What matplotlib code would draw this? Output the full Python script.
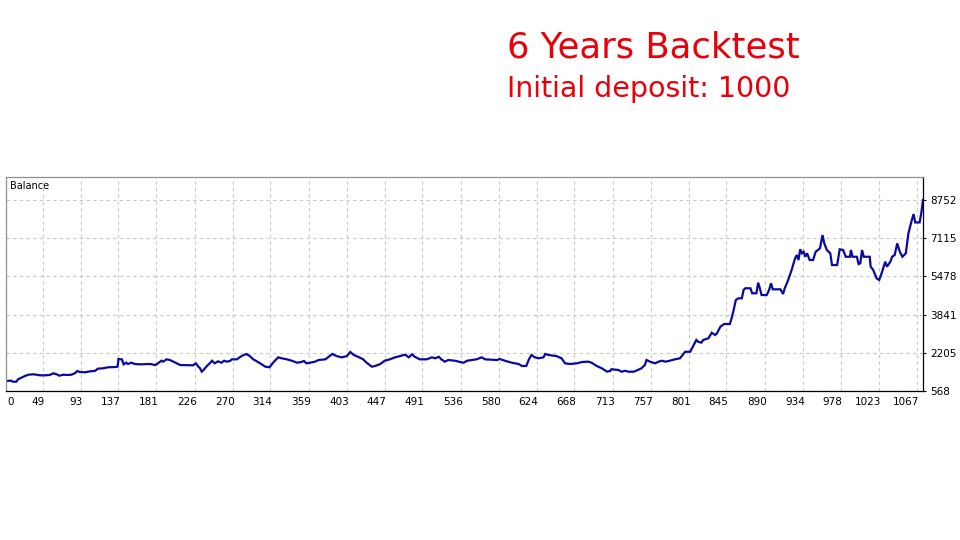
import numpy as np
import matplotlib.pyplot as plt
import matplotlib.transforms as mtransforms

# Curva de saldo (número da operação, saldo)
trade = [6, 12, 14, 18, 20, 24, 28, 32, 38, 46, 51, 57, 61, 65, 68, 73, 77, 82, 86, 89,
         92, 98, 104, 110, 113, 119, 125, 133, 136, 137, 141, 143, 146, 148, 152, 156, 162, 174, 180, 183,
         187, 189, 193, 197, 201, 205, 209, 224, 227, 230, 232, 234, 236, 240, 244, 246, 249, 253, 257, 260,
         263, 267, 269, 275, 279, 282, 286, 290, 294, 298, 302, 308, 313, 317, 323, 327, 333, 339, 345, 350,
         353, 356, 360, 366, 370, 378, 381, 386, 391, 397, 403, 407, 411, 416, 422, 426, 432, 436, 442, 447,
         453, 459, 465, 471, 475, 479, 482, 488, 496, 502, 506, 510, 513, 517, 521, 529, 535, 539, 543, 554,
         560, 564, 578, 581, 587, 595, 603, 607, 612, 615, 618, 622, 626, 632, 634, 638, 647, 653, 657, 663,
         671, 677, 684, 688, 694, 700, 706, 710, 711, 719, 723, 727, 731, 737, 742, 746, 750, 752, 756, 762,
         766, 770, 774, 779, 785, 791, 794, 797, 803, 805, 809, 810, 812, 816, 818, 824, 828, 832, 834, 838,
         842, 849, 851, 853, 856, 859, 863, 865, 867, 873, 875, 880, 882, 884, 886, 892, 895, 897, 899, 908,
         911, 913, 917, 921, 925, 927, 929, 931, 933, 935, 937, 939, 942, 946, 949, 954, 957, 959, 962, 966,
         968, 974, 977, 981, 984, 989, 990, 992, 997, 999, 1001, 1003, 1005, 1012, 1013, 1016, 1020, 1023, 1026, 1030,
         1032, 1036, 1038, 1041, 1044, 1047, 1050, 1054, 1057, 1061, 1063, 1065, 1070, 1072, 1074]
balance = [1000, 1010, 965, 965, 1070, 1140, 1210, 1265, 1285, 1240, 1240, 1255, 1325, 1285, 1225, 1265, 1255, 1265, 1325, 1425,
           1380, 1370, 1410, 1435, 1525, 1540, 1585, 1595, 1610, 1940, 1925, 1710, 1780, 1725, 1780, 1725, 1710, 1725, 1680, 1755,
           1865, 1825, 1925, 1895, 1825, 1755, 1680, 1670, 1755, 1610, 1540, 1395, 1465, 1640, 1780, 1865, 1755, 1840, 1780, 1865,
           1825, 1855, 1925, 1925, 2035, 2095, 2155, 2065, 1925, 1840, 1755, 1610, 1585, 1780, 2010, 1970, 1925, 1865, 1780, 1810,
           1855, 1755, 1780, 1825, 1895, 1925, 2010, 2155, 2065, 2010, 2065, 2240, 2110, 2035, 1925, 1780, 1610, 1640, 1725, 1865,
           1925, 2010, 2065, 2125, 2010, 2140, 2035, 1925, 1925, 2010, 1970, 2035, 1925, 1825, 1895, 1865, 1810, 1780, 1865, 1925,
           2010, 1925, 1895, 1940, 1865, 1780, 1725, 1640, 1640, 1925, 2110, 2010, 1970, 2010, 2155, 2110, 2065, 1970, 1755, 1725,
           1755, 1810, 1825, 1780, 1640, 1540, 1395, 1435, 1500, 1470, 1395, 1435, 1395, 1395, 1470, 1540, 1680, 1895, 1825, 1755,
           1825, 1865, 1825, 1865, 1925, 1970, 2110, 2250, 2250, 2400, 2680, 2755, 2680, 2640, 2755, 2825, 3065, 2965, 3040, 3320,
           3435, 3435, 3680, 3965, 4465, 4540, 4540, 4895, 4970, 4970, 4755, 4755, 5210, 4970, 4680, 4680, 4925, 5185, 4925, 4925,
           4725, 4970, 5325, 5755, 6255, 6395, 6180, 6640, 6470, 6535, 6320, 6470, 6180, 6180, 6535, 6680, 7250, 6895, 6610, 6470,
           5965, 5965, 6640, 6610, 6320, 6320, 6610, 6320, 6320, 6010, 6040, 6610, 6320, 6320, 5895, 5755, 5395, 5325, 5635, 6110,
           5895, 6110, 6320, 6395, 6895, 6535, 6320, 6470, 7325, 7895, 8150, 7790, 7790, 8190, 8752]

x_ticks = [6, 49, 93, 137, 181, 226, 270, 314, 359, 403, 447, 491, 536, 580, 624, 668,
           713, 757, 801, 845, 890, 934, 978, 1023, 1067]
x_labels = ['0'] + [str(v) for v in x_ticks[1:]]
y_ticks = [568, 2205, 3841, 5478, 7115, 8752]

fig = plt.figure(figsize=(9.6, 5.4), dpi=100)
ax = fig.add_axes([6 / 960, 149 / 540, 917 / 960, 214 / 540])

ax.plot(trade, balance, color='#0A0AA0', linewidth=1.6, solid_joinstyle='miter')

ax.set_xlim(6, 1074)
ax.set_ylim(568, 9738)

ax.set_xticks(x_ticks)
ax.set_xticklabels(x_labels)
ax.set_yticks(y_ticks)
ax.yaxis.tick_right()
ax.tick_params(axis='x', length=0, pad=4, labelsize=7.5, colors='#000000')
ax.tick_params(axis='y', length=2, pad=3, labelsize=7.5, colors='#000000')

# rótulos do eixo x alinhados à direita da grade
for lbl in ax.get_xticklabels():
    if lbl.get_text() == '0':
        lbl.set_ha('left')
        off = mtransforms.ScaledTranslation(1 / 100, 0, fig.dpi_scale_trans)
    else:
        lbl.set_ha('right')
        off = mtransforms.ScaledTranslation(2 / 100, 0, fig.dpi_scale_trans)
    lbl.set_transform(lbl.get_transform() + off)

ax.grid(True, color='#c8c8c8', linestyle=(0, (3, 3)), linewidth=0.8)
ax.set_axisbelow(True)

ax.spines['top'].set_color('#909090')
ax.spines['left'].set_color('#909090')
ax.spines['bottom'].set_color('#000000')
ax.spines['right'].set_color('#000000')
for s in ax.spines.values():
    s.set_linewidth(0.9)

ax.text(0.004, 0.958, 'Balance', transform=ax.transAxes, fontsize=7,
        ha='left', va='center', color='#000000')

fig.text(507 / 960, (540 - 58) / 540, '6 Years Backtest', fontsize=25.5,
         color='#E8000B', ha='left', va='baseline', family='DejaVu Sans')
fig.text(507 / 960, (540 - 97) / 540, 'Initial deposit: 1000', fontsize=20.5,
         color='#E8000B', ha='left', va='baseline', family='DejaVu Sans')

fig.savefig('out.png', dpi=100)
